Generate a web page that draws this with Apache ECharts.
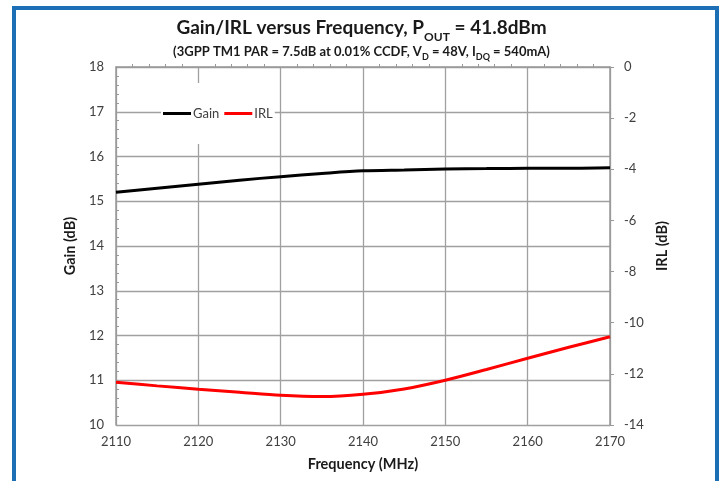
<!DOCTYPE html>
<html>
<head>
<meta charset="utf-8">
<script src="https://cdn.jsdelivr.net/npm/echarts@6/dist/echarts.min.js"></script>
<style>html,body{margin:0;padding:0;background:#fff}#c{width:723px;height:481px}</style>
</head>
<body>
<div id="c"></div>
<script>
const freq = [2110, 2115, 2120, 2125, 2130, 2135, 2140, 2145, 2150, 2155, 2160, 2165, 2170];
const gain = [15.20, 15.29, 15.38, 15.47, 15.55, 15.62, 15.68, 15.70, 15.72, 15.73, 15.74, 15.74, 15.75];
const irl  = [-12.33, -12.47, -12.60, -12.72, -12.84, -12.89, -12.80, -12.59, -12.25, -11.83, -11.39, -10.96, -10.55];
const seriesNames = ['Gain', 'IRL'];

const FONT = 'Lato';
const chart = echarts.init(document.getElementById('c'), null, {renderer: 'canvas'});
const pairs = (ys) => freq.map((f, i) => [f, ys[i]]);

chart.setOption({
  animation: false,
  textStyle: {fontFamily: FONT},
  graphic: [{
    type: 'rect', silent: true, z: 100,
    shape: {x: 14, y: 8, width: 703, height: 520},
    style: {fill: 'none', stroke: '#1c6fb5', lineWidth: 4}
  }],
  title: [{
    left: 'center', top: 6,
    text: '{a|Gain/IRL versus Frequency, P}{s|OUT}{a| = 41.8dBm}',
    textStyle: {
      rich: {
        a: {fontFamily: FONT, fontSize: 19, fontWeight: 'bold', color: '#1a1a1a', lineHeight: 26, verticalAlign: 'bottom'},
        s: {fontFamily: FONT, fontSize: 12, fontWeight: 'bold', color: '#1a1a1a', lineHeight: 26, verticalAlign: 'bottom', padding: [0, 0, -6, 0]}
      }
    }
  }, {
    left: 'center', top: 35,
    text: '{a|(3GPP TM1 PAR = 7.5dB at 0.01% CCDF, V}{s|D}{a| = 48V, I}{s|DQ}{a| = 540mA)}',
    textStyle: {
      rich: {
        a: {fontFamily: FONT, fontSize: 13, fontWeight: 'bold', color: '#1a1a1a', lineHeight: 18, verticalAlign: 'bottom'},
        s: {fontFamily: FONT, fontSize: 9, fontWeight: 'bold', color: '#1a1a1a', lineHeight: 18, verticalAlign: 'bottom', padding: [0, 0, -4, 0]}
      }
    }
  }],
  legend: {
    left: 161, top: 83,
    data: seriesNames.map(n => ({name: n, icon: 'rect'})),
    itemWidth: 28, itemHeight: 3, itemGap: 5,
    padding: [24, 2, 24, 2],
    backgroundColor: '#ffffff',
    textStyle: {fontFamily: FONT, fontSize: 13, color: '#404040', padding: [0, 0, 0, -3]}
  },
  grid: {left: 116, top: 67, right: 113, bottom: 56, containLabel: false},
  xAxis: {
    type: 'value', min: 2110, max: 2170, interval: 10,
    name: 'Frequency (MHz)', nameLocation: 'middle', nameGap: 32,
    nameTextStyle: {fontFamily: FONT, fontSize: 14.5, fontWeight: 'bold', color: '#1a1a1a'},
    axisLine: {show: true, lineStyle: {color: '#999999', width: 1.5}},
    axisTick: {show: false, inside: true},
    minorTick: {show: true, splitNumber: 5, length: 3, lineStyle: {color: '#999999', width: 1}},
    splitLine: {show: true, lineStyle: {color: '#a0a0a0', width: 1.3}},
    axisLabel: {fontFamily: FONT, fontSize: 13, color: '#404040', margin: 10, formatter: v => String(v)}
  },
  yAxis: [{
    type: 'value', min: 10, max: 18, interval: 1, position: 'left',
    name: 'Gain (dB)', nameLocation: 'middle', nameGap: 30,
    nameTextStyle: {fontFamily: FONT, fontSize: 14.5, fontWeight: 'bold', color: '#1a1a1a'},
    axisLine: {show: true, lineStyle: {color: '#999999', width: 1.5}},
    axisTick: {show: false, inside: true},
    minorTick: {show: true, splitNumber: 5, length: 3, lineStyle: {color: '#999999', width: 1}},
    splitLine: {show: true, lineStyle: {color: '#a0a0a0', width: 1.3}},
    axisLabel: {fontFamily: FONT, fontSize: 13, color: '#404040', margin: 12}
  }, {
    type: 'value', min: -14, max: 0, interval: 2, position: 'right',
    name: 'IRL (dB)', nameLocation: 'middle', nameGap: 34,
    nameTextStyle: {fontFamily: FONT, fontSize: 14.5, fontWeight: 'bold', color: '#1a1a1a'},
    axisLine: {show: true, lineStyle: {color: '#999999', width: 1.5}},
    axisTick: {show: true, inside: false, length: 4, lineStyle: {color: '#999999', width: 1}},
    splitLine: {show: false},
    axisLabel: {fontFamily: FONT, fontSize: 13, color: '#404040', margin: 14}
  }],
  series: [{
    name: seriesNames[0], type: 'line', yAxisIndex: 0,
    data: pairs(gain), smooth: 0.3, showSymbol: false, symbol: 'none',
    lineStyle: {color: '#000000', width: 3}, itemStyle: {color: '#000000'}
  }, {
    name: seriesNames[1], type: 'line', yAxisIndex: 1,
    data: pairs(irl), smooth: 0.3, showSymbol: false, symbol: 'none',
    lineStyle: {color: '#ff0000', width: 3}, itemStyle: {color: '#ff0000'}
  }]
});
</script>
</body>
</html>
